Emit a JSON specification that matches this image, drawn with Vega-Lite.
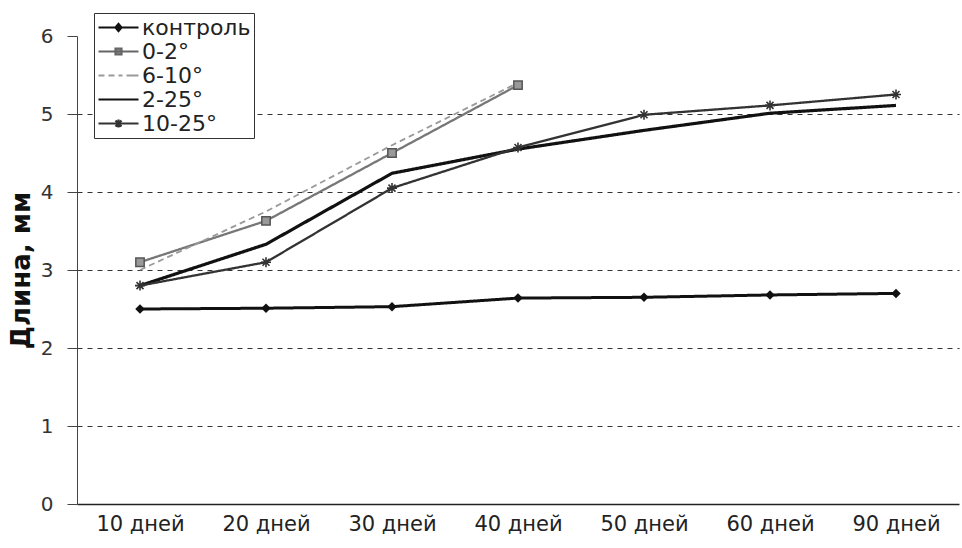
{
  "$schema": "https://vega.github.io/schema/vega-lite/v6.json",
  "width": 882,
  "height": 468,
  "padding": {"left": 8, "top": 12, "right": 2, "bottom": 4},
  "background": "white",
  "config": {
    "view": {"stroke": null},
    "font": "DejaVu Sans"
  },
  "data": {
    "values": [
      {"day": "10 дней", "series": "контроль", "value": 2.5},
      {"day": "20 дней", "series": "контроль", "value": 2.51},
      {"day": "30 дней", "series": "контроль", "value": 2.53},
      {"day": "40 дней", "series": "контроль", "value": 2.64},
      {"day": "50 дней", "series": "контроль", "value": 2.65},
      {"day": "60 дней", "series": "контроль", "value": 2.68},
      {"day": "90 дней", "series": "контроль", "value": 2.7},
      {"day": "10 дней", "series": "0-2°", "value": 3.1},
      {"day": "20 дней", "series": "0-2°", "value": 3.63},
      {"day": "30 дней", "series": "0-2°", "value": 4.5},
      {"day": "40 дней", "series": "0-2°", "value": 5.37},
      {"day": "10 дней", "series": "6-10°", "value": 3.0},
      {"day": "20 дней", "series": "6-10°", "value": 3.75},
      {"day": "30 дней", "series": "6-10°", "value": 4.6},
      {"day": "40 дней", "series": "6-10°", "value": 5.4},
      {"day": "10 дней", "series": "2-25°", "value": 2.8},
      {"day": "20 дней", "series": "2-25°", "value": 3.33},
      {"day": "30 дней", "series": "2-25°", "value": 4.24},
      {"day": "40 дней", "series": "2-25°", "value": 4.55},
      {"day": "50 дней", "series": "2-25°", "value": 4.79},
      {"day": "60 дней", "series": "2-25°", "value": 5.01},
      {"day": "90 дней", "series": "2-25°", "value": 5.11},
      {"day": "10 дней", "series": "10-25°", "value": 2.8},
      {"day": "20 дней", "series": "10-25°", "value": 3.1},
      {"day": "30 дней", "series": "10-25°", "value": 4.05},
      {"day": "40 дней", "series": "10-25°", "value": 4.57},
      {"day": "50 дней", "series": "10-25°", "value": 4.99},
      {"day": "60 дней", "series": "10-25°", "value": 5.11},
      {"day": "90 дней", "series": "10-25°", "value": 5.25}
    ]
  },
  "encoding": {
    "x": {
      "field": "day", "type": "nominal", "sort": null,
      "scale": {"domain": ["10 дней","20 дней","30 дней","40 дней","50 дней","60 дней","90 дней"], "paddingInner": 0, "paddingOuter": 0},
      "axis": {"title": null, "labelAngle": 0, "labelFontSize": 21, "labelColor": "#222", "ticks": false, "labelPadding": 9, "domainColor": "#222", "domainWidth": 1.5, "grid": false}
    },
    "y": {
      "field": "value", "type": "quantitative",
      "scale": {"domain": [0, 6], "nice": false},
      "axis": {
        "title": "Длина, мм", "titleFontSize": 26, "titleFontWeight": "bold", "titleColor": "#111", "titlePadding": 6,
        "values": [0,1,2,3,4,5,6], "labelFontSize": 20, "labelColor": "#333", "labelPadding": 14,
        "tickSize": 10, "tickColor": "#444", "domainColor": "#444",
        "grid": true, "gridDash": [5,5], "gridColor": "#333", "gridWidth": 1.2,
        "gridOpacity": {"condition": {"test": "datum.value === 0 || datum.value === 6", "value": 0}, "value": 1}
      }
    }
  },
  "layer": [
    {
      "mark": {"type": "line", "interpolate": "linear"},
      "encoding": {
        "detail": {"field": "series", "type": "nominal"},
        "stroke": {
          "condition": [
            {"test": "datum.series === '0-2°'", "value": "#777"},
            {"test": "datum.series === '6-10°'", "value": "#9a9a9a"},
            {"test": "datum.series === '10-25°'", "value": "#333"}
          ],
          "value": "#111"
        },
        "strokeDash": {
          "condition": {"test": "datum.series === '6-10°'", "value": [6, 4]},
          "value": [1, 0]
        },
        "strokeWidth": {
          "condition": [
            {"test": "datum.series === '2-25°'", "value": 3.2},
            {"test": "datum.series === 'контроль'", "value": 3},
            {"test": "datum.series === '6-10°'", "value": 1.8}
          ],
          "value": 2.3
        }
      }
    },
    {
      "transform": [{"filter": "datum.series === 'контроль'"}],
      "mark": {"type": "point", "filled": true, "opacity": 1, "shape": "diamond", "color": "#111", "size": 90}
    },
    {
      "transform": [{"filter": "datum.series === '0-2°'"}],
      "mark": {"type": "point", "filled": true, "opacity": 1, "shape": "square", "fill": "#999", "stroke": "#555", "strokeWidth": 1.5, "size": 70}
    },
    {
      "transform": [{"filter": "datum.series === '10-25°'"}],
      "mark": {"type": "point", "filled": false, "opacity": 1, "shape": "M-1,0L1,0M0,-1L0,1M-0.7,-0.7L0.7,0.7M-0.7,0.7L0.7,-0.7", "stroke": "#333", "strokeWidth": 1.6, "size": 100}
    },
    {
      "mark": {"type": "point", "filled": false, "opacity": 0},
      "encoding": {
        "shape": {
          "field": "series", "type": "nominal",
          "scale": {"domain": ["контроль","0-2°","6-10°","2-25°","10-25°"], "range": [
            "M-1,0L3,0M0.7,0L1,-0.35L1.3,0L1,0.35Z",
            "M-1,0L3,0M0.7,-0.3L1.3,-0.3L1.3,0.3L0.7,0.3Z",
            "M-1,0L-0.4,0M0,0L0.6,0M1,0L1.4,0M1.8,0L3,0",
            "M-1,0L3,0",
            "M-1,0L3,0M1,-0.4L1,0.4M0.6,0L1.4,0M0.7,-0.3L1.3,0.3M0.7,0.3L1.3,-0.3"
          ]},
          "legend": {
            "title": null, "orient": "none", "legendX": 17, "legendY": -23,
            "symbolSize": 400, "symbolStrokeWidth": 2.2, "symbolOpacity": 1,
            "labelFontSize": 22, "labelColor": "#222", "rowPadding": 1, "labelOffset": 22,
            "strokeColor": "#333", "fillColor": "white", "padding": 3
          }
        },
        "stroke": {
          "field": "series", "type": "nominal",
          "scale": {"domain": ["контроль","0-2°","6-10°","2-25°","10-25°"], "range": ["#111","#666","#9a9a9a","#111","#333"]}
        },
        "fill": {
          "field": "series", "type": "nominal",
          "scale": {"domain": ["контроль","0-2°","6-10°","2-25°","10-25°"], "range": ["#111","#888","#ffffff","#111","#333"]}
        }
      }
    }
  ]
}
